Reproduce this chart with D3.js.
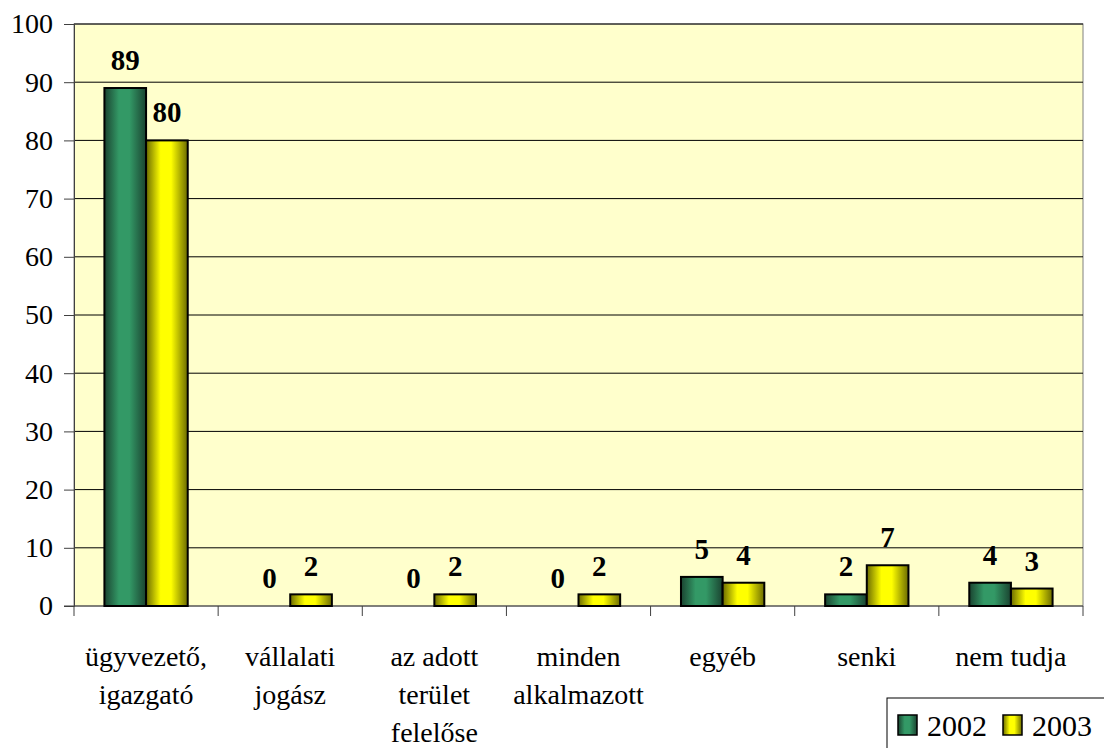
<!DOCTYPE html>
<html>
<head>
<meta charset="utf-8">
<script src="https://cdn.jsdelivr.net/npm/d3@7"></script>
</head>
<body style="margin:0">
<svg></svg>
<script>
// categories (each entry is a list of label lines)
let categories = [
    ["ügyvezető,", "igazgató"],
    ["vállalati", "jogász"],
    ["az adott", "terület", "felelőse"],
    ["minden", "alkalmazott"],
    ["egyéb"],
    ["senki"],
    ["nem tudja"]
];
let values2002 = [89, 0, 0, 0, 5, 2, 4];
let values2003 = [80, 2, 2, 2, 4, 7, 3];
let seriesNames = ["2002", "2003"];
let yTicks = [0, 10, 20, 30, 40, 50, 60, 70, 80, 90, 100];

let canvasWidth = 1104;
let canvasHeight = 748;
let fontFamily = "Times New Roman, Tinos, Liberation Serif, serif";
let svg = d3.select("svg").attr("width", canvasWidth).attr("height", canvasHeight);

// helper: serif text, family set both ways, size as attribute
function serif(sel, size) {
    return sel.attr("font-family", fontFamily).style("font-family", fontFamily).attr("font-size", size);
}

// plot area bounds
let plotLeft = 74, plotRight = 1083, plotTop = 24, plotBottom = 606;

// gradients for the cylinder-ish shading
let defs = svg.append("defs");
function addGradient(id, dark, light) {
    let g = defs.append("linearGradient").attr("id", id)
        .attr("x1", "0%").attr("x2", "100%").attr("y1", "0%").attr("y2", "0%");
    g.append("stop").attr("offset", "0%").attr("stop-color", dark);
    g.append("stop").attr("offset", "35%").attr("stop-color", light);
    g.append("stop").attr("offset", "60%").attr("stop-color", light);
    g.append("stop").attr("offset", "100%").attr("stop-color", dark);
}
addGradient("gGreen", "#1a4330", "#339966");
addGradient("gYellow", "#6b6b00", "#ffff00");
let fills = ["url(#gGreen)", "url(#gYellow)"];

let x = d3.scaleBand().domain(d3.range(categories.length)).range([plotLeft, plotRight]).paddingInner(0).paddingOuter(0);
let xInner = d3.scaleBand().domain([0, 1]).range([0, x.bandwidth()]).paddingInner(0).paddingOuter(0.73);
let y = d3.scaleLinear().domain([0, 100]).range([plotBottom, plotTop]);

// plot background
svg.append("rect").attr("x", plotLeft).attr("y", plotTop)
    .attr("width", plotRight - plotLeft).attr("height", plotBottom - plotTop)
    .attr("fill", "#ffffcc").attr("stroke", "#808080").attr("stroke-width", 1);

// gridlines
svg.append("g").selectAll("line").data(yTicks.filter(d => d > 0)).join("line")
    .attr("x1", plotLeft).attr("x2", plotRight)
    .attr("y1", d => y(d)).attr("y2", d => y(d))
    .attr("stroke", "#000").attr("stroke-width", 1);

// y axis
let yAxis = d3.axisLeft(y).tickValues(yTicks).tickSize(10).tickPadding(11);
let ya = svg.append("g").attr("transform", `translate(${plotLeft},0)`).call(yAxis);
ya.attr("font-family", null).attr("font-size", null);
ya.select(".domain").attr("stroke", "#404040");
ya.selectAll(".tick line").attr("stroke", "#404040");
serif(ya.selectAll("text").attr("fill", "#000"), 28);

// x axis line and ticks
let xa = svg.append("g");
xa.append("line").attr("x1", plotLeft - 10).attr("x2", plotRight).attr("y1", plotBottom).attr("y2", plotBottom)
    .attr("stroke", "#404040");
xa.selectAll("line.tk").data(d3.range(categories.length + 1)).join("line").attr("class", "tk")
    .attr("x1", i => plotLeft + i * x.bandwidth()).attr("x2", i => plotLeft + i * x.bandwidth())
    .attr("y1", plotBottom).attr("y2", plotBottom + 10).attr("stroke", "#404040");

// category labels: one text per line
categories.forEach((lines, i) => {
    serif(svg.append("g").selectAll("text").data(lines).join("text"), 28)
        .attr("text-anchor", "middle")
        .attr("x", x(i) + x.bandwidth() / 2)
        .attr("y", (d, j) => 666 + j * 38)
        .text(d => d);
});

// bars
let series = [values2002, values2003];
series.forEach((vals, s) => {
    let g = svg.append("g");
    g.selectAll("rect").data(vals).join("rect")
        .attr("x", (d, i) => x(i) + xInner(s))
        .attr("width", xInner.bandwidth())
        .attr("y", d => y(d))
        .attr("height", d => plotBottom - y(d))
        .attr("fill", fills[s])
        .attr("stroke", d => d > 0 ? "#000" : "none")
        .attr("stroke-width", 2);
    serif(g.selectAll("text").data(vals).join("text"), 29)
        .attr("x", (d, i) => x(i) + xInner(s) + xInner.bandwidth() / 2)
        .attr("y", d => y(d) - 18)
        .attr("text-anchor", "middle")
        .attr("font-weight", "bold")
        .text(d => d);
});

// legend
let lg = svg.append("g").attr("transform", "translate(887,698)");
lg.append("rect").attr("width", 240).attr("height", 70).attr("fill", "#fff")
    .attr("stroke", "#000").attr("stroke-width", 1);
seriesNames.forEach((name, s) => {
    let ox = 11 + s * 105;
    lg.append("rect").attr("x", ox).attr("y", 17).attr("width", 19).attr("height", 20)
        .attr("fill", fills[s]).attr("stroke", "#000").attr("stroke-width", 1.5);
    serif(lg.append("text"), 30).attr("x", ox + 29).attr("y", 38).text(name);
});
</script>
</body>
</html>
